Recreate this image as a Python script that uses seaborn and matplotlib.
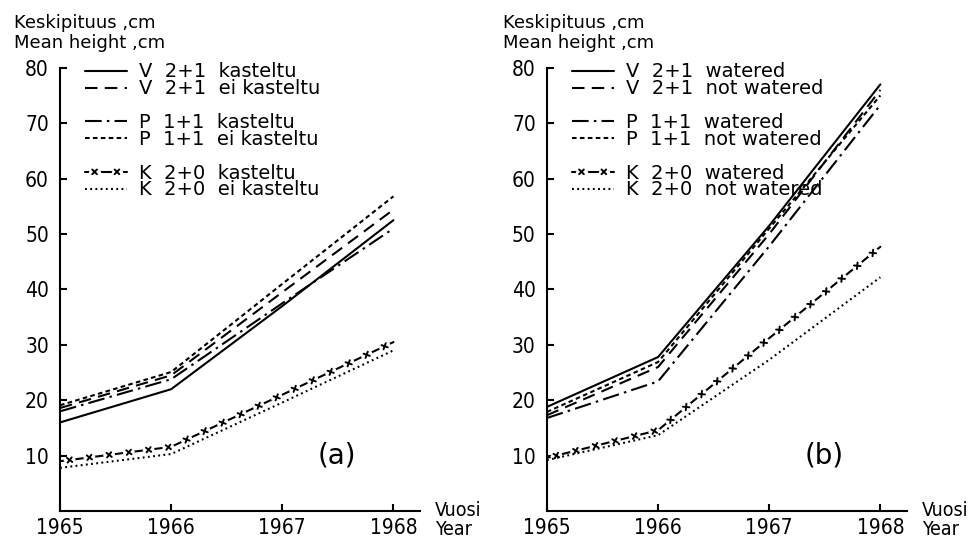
import numpy as np
import pandas as pd
import seaborn as sns
import matplotlib.pyplot as plt
from matplotlib import font_manager
from matplotlib import patheffects as pe
from matplotlib.lines import Line2D

years = [1965, 1966, 1967, 1968]

# (a) mean height, cm
v21_kast_a = [16.0, 22.0, 37.0, 52.5]
v21_ei_a = [18.6, 24.5, 39.5, 54.4]
p11_kast_a = [18.0, 23.8, 37.5, 51.0]
p11_ei_a = [19.1, 25.1, 41.0, 56.8]
k20_kast_a = [9.0, 11.6, 21.0, 30.5]
k20_ei_a = [7.8, 10.3, 19.6, 29.0]

# (b) mean height, cm
v21_w_b = [18.8, 27.8, 51.5, 77.0]
v21_nw_b = [17.3, 26.0, 50.0, 76.0]
p11_w_b = [16.8, 23.4, 47.8, 73.3]
p11_nw_b = [17.9, 26.9, 51.0, 75.0]
k20_w_b = [9.6, 14.6, 31.2, 47.7]
k20_nw_b = [9.2, 13.7, 27.3, 42.2]

codes = ['V  2+1', 'V  2+1', 'P  1+1', 'P  1+1', 'K  2+0', 'K  2+0']
treat_fi = ['kasteltu', 'ei kasteltu'] * 3
treat_en = ['watered', 'not watered'] * 3
y_ticks = [10, 20, 30, 40, 50, 60, 70, 80]

sns.set_theme(style='ticks')
plt.rcParams['font.family'] = ['DejaVu Sans']
plt.rcParams['text.color'] = 'black'
plt.rcParams['axes.labelcolor'] = 'black'
installed = {f.name for f in font_manager.fontManager.ttflist}
num_font = 'Liberation Sans Narrow' if 'Liberation Sans Narrow' in installed else 'DejaVu Sans'


def x_marks():
    sp = 14
    fx = [pe.Normal()]
    fx += [pe.TickedStroke(spacing=sp, angle=a, length=0.22, foreground='white', linewidth=2.5)
           for a in (0, 180)]
    fx += [pe.TickedStroke(spacing=sp, angle=a, length=0.17, linewidth=1.4)
           for a in (45, 135, -45, -135)]
    return fx


styles = [
    dict(linestyle='-'),
    dict(linestyle=(0, (6, 3.5))),
    dict(linestyle=(0, (8, 2.5, 1.2, 2.5))),
    dict(linestyle=(0, (2.2, 1.6))),
    dict(linestyle='-', path_effects=x_marks()),
    dict(linestyle=(0, (0.9, 1.6))),
]

fig = plt.figure(figsize=(9.68, 5.38), dpi=100)
fig.patch.set_facecolor('white')
ax_a = fig.add_axes([0.062, 0.050, 0.372, 0.824])
ax_b = fig.add_axes([0.565, 0.050, 0.372, 0.824])


def draw_panel(ax, series, treat, tag, lx):
    lines = []
    for vals, st in zip(series, styles):
        sns.lineplot(x=years, y=vals, ax=ax, color='black', linewidth=1.5, **st)
        lines.append(ax.lines[-1])

    ax.set_xlim(1965, 1968.24)
    ax.set_ylim(0, 80)
    ax.set_xticks(years)
    ax.set_yticks(y_ticks)
    ax.set_xlabel('')
    ax.set_ylabel('')
    sns.despine(ax=ax)
    for s in ('left', 'bottom'):
        ax.spines[s].set_linewidth(1.5)
        ax.spines[s].set_color('black')
    ax.tick_params(direction='in', length=5, width=1.5, color='black',
                   labelsize=15, labelcolor='black')
    ax.tick_params(axis='x', pad=5)
    ax.tick_params(axis='y', pad=8)
    for lab in ax.get_xticklabels() + ax.get_yticklabels():
        lab.set_family(num_font)
        lab.set_fontstretch('condensed')

    handles, labels = [], []
    for i, (ln, c, t) in enumerate(zip(lines, codes, treat)):
        if i in (2, 4):
            handles.append(Line2D([], [], linestyle='none'))
            labels.append('Xy')
        handles.append(ln)
        labels.append(f'{c}  {t}')
    leg = ax.legend(handles, labels, loc='upper left', bbox_to_anchor=(0.069, 1.012),
                    frameon=False, borderpad=0, borderaxespad=0, handlelength=2.15,
                    handletextpad=0.65, labelspacing=-0.11, fontsize=14)
    for txt in leg.get_texts():
        if txt.get_text() == 'Xy':
            txt.set_alpha(0)

    ax.text(lx, 1.090, 'Keskipituus ,cm', transform=ax.transAxes, fontsize=13,
            va='baseline', ha='left')
    ax.text(lx, 1.045, 'Mean height ,cm', transform=ax.transAxes, fontsize=13,
            va='baseline', ha='left')
    ax.text(1.042, -0.011, 'Vuosi', transform=ax.transAxes, fontsize=14,
            fontstretch='condensed', va='baseline', ha='left')
    ax.text(1.042, -0.054, 'Year', transform=ax.transAxes, fontsize=14,
            fontstretch='condensed', va='baseline', ha='left')
    ax.text(0.77, 0.125, tag, transform=ax.transAxes, fontsize=20,
            va='center', ha='center')


draw_panel(ax_a, [v21_kast_a, v21_ei_a, p11_kast_a, p11_ei_a, k20_kast_a, k20_ei_a],
           treat_fi, '(a)', -0.128)
draw_panel(ax_b, [v21_w_b, v21_nw_b, p11_w_b, p11_nw_b, k20_w_b, k20_nw_b],
           treat_en, '(b)', -0.122)

fig.savefig('out.png', dpi=100, facecolor='white')
